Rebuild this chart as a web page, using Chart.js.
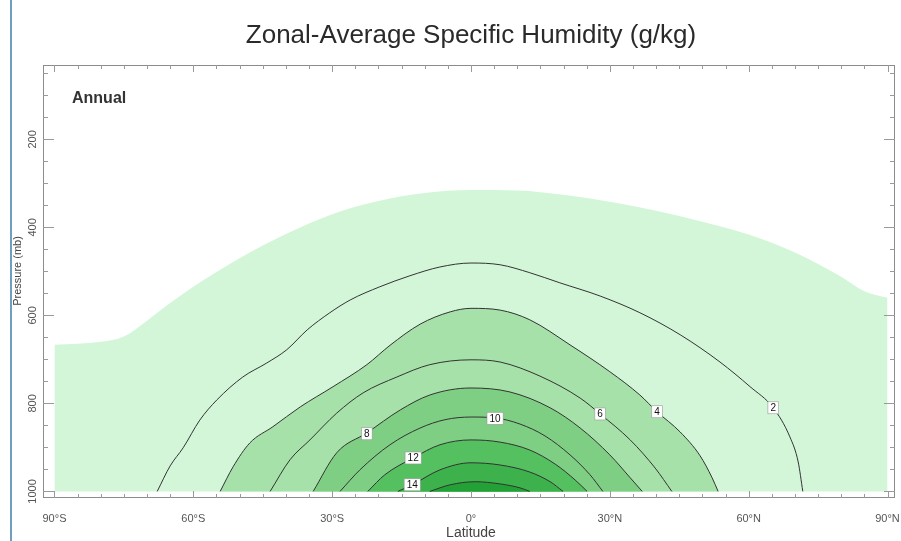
<!DOCTYPE html>
<html><head><meta charset="utf-8">
<script src="https://cdn.jsdelivr.net/npm/chart.js@4.4.1/dist/chart.umd.min.js"></script>
<style>html,body{margin:0;padding:0;background:#fff;}canvas{display:block;}</style>
</head><body>
<canvas id="c" width="901" height="541" style="width:901px;height:541px"></canvas>
<script>
const chartTitle = 'Zonal-Average Specific Humidity (g/kg)';
const periodLabel = 'Annual';
const xAxisTitle = 'Latitude';
const yAxisTitle = 'Pressure (mb)';
const latTicks = [-90, -60, -30, 0, 30, 60, 90];
const latTickLabels = ['90°S', '60°S', '30°S', '0°', '30°N', '60°N', '90°N'];
const presTicks = [200, 400, 600, 800, 1000];

// contour / shading boundaries: latitude (deg) and pressure (mb)
const lat_q1 = [-90,-80,-75,-70,-65,-60,-50,-40,-30,-20,-10,0,10,20,30,40,50,60,70,80,85,90];
const pres_q1 = [667,660,648,612,572,535,470,415,370,340,322,315,316,326,342,362,387,416,457,512,545,560];
const lat_q2 = [-67.8,-65,-62.2,-58.6,-54.9,-49.3,-44.1,-39.8,-35.4,-30.5,-26.1,-19.7,-13.2,-6.7,0,6.3,12.7,19.2,27.9,36.5,45.2,53.8,60.3,65.3,68.9,70.7,71.7];
const pres_q2 = [1000,942,901,838,792,740,708,678,633,594,565,535,510,490,481,485,503,526,556,594,644,706,762,810,876,933,1000];
const lat_q4 = [-54.2,-51.4,-47.8,-42.8,-36.9,-29.8,-22.5,-17.5,-11,-4.5,0,6.3,12.7,21.4,30,36.5,40.2,45.2,49.5,52.1,53.4];
const pres_q4 = [1000,944,890,853,808,762,712,668,620,592,584,588,610,667,728,781,819,865,919,969,1000];
const lat_q6 = [-43.4,-39.1,-34.8,-29,-23.3,-16,-8.9,0,6.3,14.9,23.6,27.9,34.4,39.8,43.4];
const pres_q6 = [1000,928,883,822,776,740,712,701,706,738,788,824,883,947,1000];
const lat_q8 = [-34.1,-29,-22.5,-15.3,-8.9,0,8.4,17.1,23.6,30,34.4,37];
const pres_q8 = [1000,912,867,815,781,765,774,810,856,917,969,1000];
const lat_q10 = [-28.3,-24,-17.5,-11,-5.6,0,5.2,10.6,16,21.4,25.7,28.5];
const pres_q10 = [1000,951,894,856,837,831,833,847,874,917,962,1000];
const lat_q12 = [-22.3,-18.6,-12.5,-6.7,0,6.3,12.7,18.2,22.5,25.1];
const pres_q12 = [1000,962,924,894,883,888,906,938,974,1000];
const lat_q14 = [-15.8,-12.7,-6.7,0,6.3,12.7,17.1,19.9];
const pres_q14 = [1000,985,951,935,940,956,978,1000];
const lat_q16 = [-8.9,-4.5,0.9,6.3,10.6,12.7];
const pres_q16 = [1000,985,978,983,992,1000];

const contourLabelText = ['2','4','6','8','10','12','14'];
const contourLabelLat = [65.3, 40.2, 27.9, -22.5, 5.2, -12.5, -12.7];
const contourLabelPres = [810, 819, 824, 869, 834, 924, 985];

const FONT = '"Liberation Sans", Arial, Helvetica, sans-serif';

const layers = [
  {lat: lat_q1, p: pres_q1, fillColor: '#d3f6d8', line: false},
  {lat: lat_q2, p: pres_q2, fillColor: null, line: true},
  {lat: lat_q4, p: pres_q4, fillColor: '#a6e1a9', line: true},
  {lat: lat_q6, p: pres_q6, fillColor: null, line: true},
  {lat: lat_q8, p: pres_q8, fillColor: '#7ecf83', line: true},
  {lat: lat_q10, p: pres_q10, fillColor: null, line: true},
  {lat: lat_q12, p: pres_q12, fillColor: '#55c05f', line: true},
  {lat: lat_q14, p: pres_q14, fillColor: '#3db14b', line: true},
  {lat: lat_q16, p: pres_q16, fillColor: '#24a136', line: true}
];

const datasets = layers.map((L, i) => ({
  data: L.lat.map((x, j) => ({x: x, y: L.p[j]})),
  borderColor: L.line ? '#333333' : 'rgba(0,0,0,0)',
  borderWidth: L.line ? 1 : 0,
  backgroundColor: L.fillColor || 'rgba(0,0,0,0)',
  fill: L.fillColor ? {value: 1000} : false,
  pointRadius: 0,
  pointHoverRadius: 0,
  cubicInterpolationMode: 'monotone',
  order: 100 - i
}));

const deco = {
  id: 'deco',
  beforeDraw(chart) {
    const ctx = chart.ctx;
    ctx.save();
    ctx.fillStyle = '#ffffff';
    ctx.fillRect(0, 0, chart.width, chart.height);
    ctx.restore();
  },
  afterDatasetsDraw(chart) {
    const ctx = chart.ctx, xs = chart.scales.x, ys = chart.scales.y;
    ctx.save();
    ctx.font = '10px ' + FONT;
    ctx.textAlign = 'center';
    ctx.textBaseline = 'middle';
    contourLabelText.forEach((t, i) => {
      const px = xs.getPixelForValue(contourLabelLat[i]);
      const py = ys.getPixelForValue(contourLabelPres[i]);
      const w = ctx.measureText(t).width + 5, h = 12;
      ctx.fillStyle = '#ffffff';
      ctx.fillRect(px - w / 2, py - h / 2, w, h);
      ctx.strokeStyle = '#9a9a9a';
      ctx.lineWidth = 0.6;
      ctx.strokeRect(px - w / 2, py - h / 2, w, h);
      ctx.fillStyle = '#111111';
      ctx.fillText(t, px, py + 0.5);
    });
    ctx.restore();
  },
  afterDraw(chart) {
    const ctx = chart.ctx, xs = chart.scales.x, ys = chart.scales.y;
    const a = chart.chartArea;
    ctx.save();
    ctx.strokeStyle = '#8c8c8c';
    ctx.lineWidth = 1;
    ctx.strokeRect(Math.round(a.left) + 0.5, Math.round(a.top) + 0.5, Math.round(a.right - a.left) - 1, Math.round(a.bottom - a.top) - 1);
    ctx.strokeStyle = '#9a9a9a';
    ctx.beginPath();
    for (let v = -90; v <= 90; v += 5) {
      const px = Math.round(xs.getPixelForValue(v)) + 0.5;
      const len = v % 30 === 0 ? 7 : 4;
      ctx.moveTo(px, a.bottom); ctx.lineTo(px, a.bottom - len);
      ctx.moveTo(px, a.top); ctx.lineTo(px, a.top + len);
    }
    for (let v = 50; v <= 1000; v += 50) {
      const py = Math.round(ys.getPixelForValue(v)) + 0.5;
      const len = v % 200 === 0 ? 11 : 5;
      ctx.moveTo(a.left, py); ctx.lineTo(a.left + len, py);
      ctx.moveTo(a.right, py); ctx.lineTo(a.right - len, py);
    }
    ctx.stroke();
    ctx.fillStyle = '#2a2a2a';
    ctx.textAlign = 'center';
    ctx.textBaseline = 'alphabetic';
    ctx.font = '26px ' + FONT;
    ctx.fillText(chartTitle, 471, 43);
    ctx.textAlign = 'left';
    ctx.font = 'bold 16px ' + FONT;
    ctx.fillStyle = '#333333';
    ctx.fillText(periodLabel, 72, 103);
    ctx.textAlign = 'center';
    ctx.font = '14px ' + FONT;
    ctx.fillStyle = '#444444';
    ctx.fillText(xAxisTitle, 471, 537);
    ctx.save();
    ctx.translate(18, 271);
    ctx.rotate(-Math.PI / 2);
    ctx.textBaseline = 'middle';
    ctx.font = '11px ' + FONT;
    ctx.fillText(yAxisTitle, 0, 0);
    ctx.restore();
    ctx.fillStyle = '#6f9fc0';
    ctx.fillRect(10, 0, 2, chart.height);
    ctx.restore();
  }
};

new Chart(document.getElementById('c'), {
  type: 'line',
  data: {datasets: datasets},
  plugins: [deco],
  options: {
    responsive: false,
    devicePixelRatio: 1,
    animation: false,
    layout: {padding: {left: 0, right: 6, top: 65, bottom: 0}},
    plugins: {legend: {display: false}, tooltip: {enabled: false}, title: {display: false}},
    scales: {
      x: {
        type: 'linear', min: -92.48, max: 91.62,
        afterBuildTicks: (s) => { s.ticks = latTicks.map(v => ({value: v})); },
        afterFit: (s) => { s.height = 43; s.paddingLeft = 0; s.paddingRight = 0; },
        ticks: {
          callback: (v) => latTickLabels[latTicks.indexOf(v)],
          font: {size: 11, family: FONT}, color: '#555555',
          padding: 14, minRotation: 0, maxRotation: 0, autoSkip: false
        },
        grid: {display: false, drawTicks: false},
        border: {display: false}
      },
      y: {
        type: 'linear', reverse: true, min: 31, max: 1015,
        afterBuildTicks: (s) => { s.ticks = presTicks.map(v => ({value: v})); },
        afterFit: (s) => { s.width = 43; s.paddingTop = 0; s.paddingBottom = 0; },
        ticks: {
          callback: (v) => String(v),
          font: {size: 11, family: FONT}, color: '#555555',
          minRotation: 90, maxRotation: 90, crossAlign: 'center', padding: -2, autoSkip: false
        },
        grid: {display: false, drawTicks: false},
        border: {display: false}
      }
    }
  }
});
</script>
</body></html>
